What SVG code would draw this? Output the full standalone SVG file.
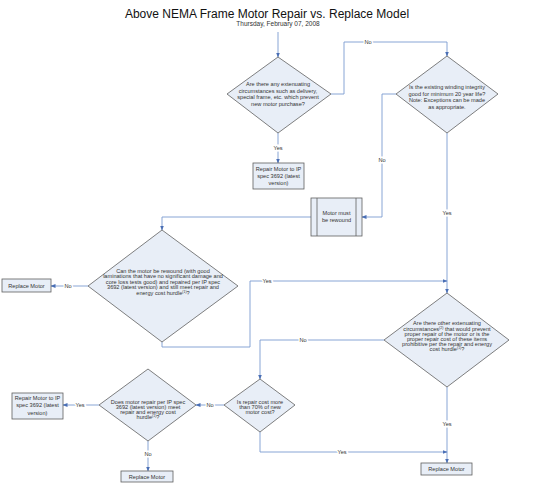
<svg xmlns="http://www.w3.org/2000/svg" width="534" height="486" viewBox="0 0 534 486">
<style>
.shape{fill:#E8EEF7;stroke:#5F5F5F;stroke-width:0.8}
.t{font-family:"Liberation Sans",Arial,sans-serif;font-size:5.6px;fill:#333;text-anchor:middle}
.lbl{font-family:"Liberation Sans",Arial,sans-serif;font-size:5.6px;fill:#333;text-anchor:middle;paint-order:stroke;stroke:#fff;stroke-width:3px}
.c{fill:none;stroke:#7B9BD0;stroke-width:0.9;marker-end:url(#arr)}
.sup{font-size:3.5px}
</style>
<defs>
<marker id="arr" markerUnits="userSpaceOnUse" markerWidth="5" markerHeight="5" refX="4.5" refY="2" orient="auto" viewBox="0 0 5 4">
<path d="M0,0 L5,2 L0,4 z" fill="#4A6FB5"/>
</marker>
</defs>
<rect width="534" height="486" fill="#fff"/>
<text x="267" y="18" font-family="Liberation Sans,Arial,sans-serif" font-size="12" text-anchor="middle" fill="#111">Above NEMA Frame Motor Repair vs. Replace Model</text>
<text x="278" y="25.5" font-family="Liberation Sans,Arial,sans-serif" font-size="6.5" text-anchor="middle" fill="#333">Thursday, February 07, 2008</text>

<g id="connectors">
<path class="c" d="M278,32 V57"/>
<path class="c" d="M278,133 V163"/>
<path class="c" d="M331,94 H344 V42 H447 V56"/>
<path class="c" d="M396,94 H382 V217 H362"/>
<path class="c" d="M447,133 V293"/>
<path class="c" d="M311,217 H162 V230"/>
<path class="c" d="M88,286 H51"/>
<path class="c" d="M162,342 V347 H250 V281 H447"/>
<path class="c" d="M384,340 H260 V379"/>
<path class="c" d="M447,387 V463"/>
<path class="c" d="M260,432 V452 H447"/>
<path class="c" d="M224,405 H196"/>
<path class="c" d="M99,405 H63"/>
<path class="c" d="M148,441 V471"/>
<text class="lbl" x="278" y="150">Yes</text>
<text class="lbl" x="368" y="44">No</text>
<text class="lbl" x="382" y="162">No</text>
<text class="lbl" x="447" y="215">Yes</text>
<text class="lbl" x="68" y="288">No</text>
<text class="lbl" x="267" y="283">Yes</text>
<text class="lbl" x="303" y="342">No</text>
<text class="lbl" x="447" y="426">Yes</text>
<text class="lbl" x="342" y="454">Yes</text>
<text class="lbl" x="210" y="407">No</text>
<text class="lbl" x="80" y="407">Yes</text>
<text class="lbl" x="148" y="456">No</text>
</g>

<g id="d1">
<polygon class="shape" points="278,57 331,94 278,133 227,94"/>
<text class="t" x="278" y="86">Are there any extenuating</text>
<text class="t" x="278" y="92.7">circumstances such as delivery,</text>
<text class="t" x="278" y="99.4">special frame, etc. which prevent</text>
<text class="t" x="278" y="106.1">new motor purchase?</text>
</g>

<g id="box-repair1">
<rect class="shape" x="253" y="163" width="51" height="26"/>
<text class="t" x="278.5" y="171">Repair Motor to IP</text>
<text class="t" x="278.5" y="178">spec 3692 (latest</text>
<text class="t" x="278.5" y="185">version)</text>
</g>

<g id="d2">
<polygon class="shape" points="447,56 498,94 447,133 396,94"/>
<text class="t" x="447" y="89">Is the existing winding integrity</text>
<text class="t" x="447" y="95.7">good for minimum 20 year life?</text>
<text class="t" x="447" y="102.4">Note:  Exceptions can be made</text>
<text class="t" x="447" y="109.1">as appropriate.</text>
</g>

<g id="box-rewound">
<rect class="shape" x="311" y="198" width="51" height="38"/>
<line x1="317" y1="198" x2="317" y2="236" stroke="#5F5F5F" stroke-width="0.8"/>
<line x1="356" y1="198" x2="356" y2="236" stroke="#5F5F5F" stroke-width="0.8"/>
<text class="t" x="336.5" y="215">Motor must</text>
<text class="t" x="336.5" y="222">be rewound</text>
</g>

<g id="d3">
<polygon class="shape" points="162,230 238,286 162,342 88,286"/>
<text class="t" x="163" y="272.7">Can the motor be rewound (with good</text>
<text class="t" x="163" y="278.2">laminations that have no significant damage and</text>
<text class="t" x="163" y="283.7">core loss tests good) and repaired per IP spec</text>
<text class="t" x="163" y="289.2">3692 (latest version) and still meet repair and</text>
<text class="t" x="163" y="294.7">energy cost hurdle<tspan class="sup" dy="-2">(1)</tspan><tspan dy="2">?</tspan></text>
</g>

<g id="box-replace1">
<rect class="shape" x="2" y="279" width="49" height="13"/>
<text class="t" x="26.5" y="287.8">Replace Motor</text>
</g>

<g id="d4">
<polygon class="shape" points="447,293 509,340 447,387 384,340"/>
<text class="t" x="447" y="325.3">Are there other extenuating</text>
<text class="t" x="447" y="330.6">circumstances<tspan class="sup" dy="-2">(2)</tspan><tspan dy="2"> that would prevent</tspan></text>
<text class="t" x="447" y="335.8">proper repair of the motor or is the</text>
<text class="t" x="447" y="341">proper repair cost of these items</text>
<text class="t" x="447" y="346.2">prohibitive per the repair and energy</text>
<text class="t" x="447" y="351.4">cost hurdle<tspan class="sup" dy="-2">(1)</tspan><tspan dy="2">?</tspan></text>
</g>

<g id="d5">
<polygon class="shape" points="260,379 295,405 260,432 224,405"/>
<text class="t" x="260" y="403.7">Is repair cost more</text>
<text class="t" x="260" y="409">than 70% of new</text>
<text class="t" x="260" y="414.3">motor cost?</text>
</g>

<g id="d6">
<polygon class="shape" points="148,369 196,405 148,441 99,405"/>
<text class="t" x="148" y="403.6">Does motor repair per IP spec</text>
<text class="t" x="148" y="408.8">3692 (latest version) meet</text>
<text class="t" x="148" y="414">repair and energy cost</text>
<text class="t" x="148" y="419.2">hurdle<tspan class="sup" dy="-2">(1)</tspan><tspan dy="2">?</tspan></text>
</g>

<g id="box-repair2">
<rect class="shape" x="12" y="393" width="51" height="26"/>
<text class="t" x="37.5" y="399.5">Repair Motor to IP</text>
<text class="t" x="37.5" y="407">spec 3692 (latest</text>
<text class="t" x="37.5" y="414.5">version)</text>
</g>

<g id="box-replace2">
<rect class="shape" x="421" y="463" width="51" height="12"/>
<text class="t" x="446.5" y="471">Replace Motor</text>
</g>

<g id="box-replace3">
<rect class="shape" x="121" y="471" width="52" height="11"/>
<text class="t" x="147" y="478.5">Replace Motor</text>
</g>
</svg>
